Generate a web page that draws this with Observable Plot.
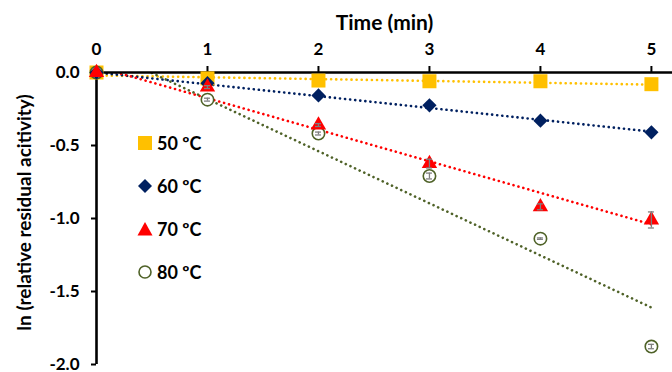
<!DOCTYPE html>
<html>
<head>
<meta charset="utf-8">
<script src="https://cdn.jsdelivr.net/npm/d3@7"></script>
<script src="https://cdn.jsdelivr.net/npm/@observablehq/plot@0.6"></script>
<style>
  html, body { margin: 0; padding: 0; background: #fff; }
  #wrap { position: relative; width: 672px; height: 372px; font-family: Lato, "Open Sans", sans-serif; font-weight: bold; }
  #legend { position: absolute; left: 136px; top: 130px; }
  .row { position: absolute; left: 0; height: 26px; display: flex; align-items: center; white-space: nowrap; font-size: 18px; color: #000; }
  .row svg { width: 18px; height: 18px; margin-right: 3px; }
</style>
</head>
<body>
<div id="wrap"></div>
<script>
// ---- data ----
const times = [0, 1, 2, 3, 4, 5];
const seriesNames = ["50 ºC", "60 ºC", "70 ºC", "80 ºC"];
const v50 = [0, -0.04, -0.055, -0.06, -0.06, -0.08];
const v60 = [0, -0.073, -0.157, -0.225, -0.33, -0.41];
const v70 = [0, -0.10, -0.36, -0.624, -0.92, -1.01];
const v80 = [0, -0.186, -0.418, -0.709, -1.138, -1.877];
const e70 = [0, 0.01, 0.01, 0.03, 0.02, 0.055];
const e80 = [0, 0.01, 0.01, 0.02, 0.005, 0.015];
// linear trendline values at t = 0 and t = 5
const trendT = [0, 5];
const trend50 = [-0.02, -0.083];
const trend60 = [0.0, -0.405];
const trend70 = [0.04, -1.04];
const trend80 = [0.175, -1.61];
const xTicks = [0, 1, 2, 3, 4, 5];
const yTicks = [0, -0.5, -1.0, -1.5, -2.0];
const xTitle = "Time (min)";
const yTitle = "ln (relative residual acitivity)";

const colors = {"50 ºC": "#FFC000", "60 ºC": "#002060", "70 ºC": "#FF0000", "80 ºC": "#4F6228"};
const values = [v50, v60, v70, v80];
const trends = [trend50, trend60, trend70, trend80];

const pts = seriesNames.map((s, i) => times.map((t, j) => ({s, t, v: values[i][j]})));
const trendRows = seriesNames.flatMap((s, i) => trendT.map((t, j) => ({s, t, v: trends[i][j]})));
const errRows = [
  ...times.map((t, j) => ({t, v: v70[j], e: e70[j]})),
  ...times.map((t, j) => ({t, v: v80[j], e: e80[j]}))
].filter(d => d.e > 0);

const fmt = d => d.toFixed(1);

const plot = Plot.plot({
  width: 672,
  height: 372,
  marginLeft: 96,
  marginRight: 0,
  marginTop: 72,
  marginBottom: 8,
  style: {fontFamily: "Lato, 'Open Sans', sans-serif", fontWeight: "bold", fontSize: "17px", color: "#000", background: "#fff"},
  x: {domain: [0, 5.19]},
  y: {domain: [-2, 0]},
  marks: [
    Plot.line(trendRows, {x: "t", y: "v", z: "s", stroke: d => colors[d.s], strokeWidth: 2.6, strokeDasharray: "0.1,5", strokeLinecap: "round", clip: true}),
    Plot.ruleY([0], {stroke: "#000", strokeWidth: 2.6}),
    Plot.ruleX([0], {y1: -2, y2: 0, stroke: "#000", strokeWidth: 2.6}),
    Plot.axisX({anchor: "top", ticks: xTicks, tickSize: 7, tickPadding: 11, tickFormat: d => String(d), strokeWidth: 2, fontSize: 17, label: null}),
    Plot.axisY({anchor: "left", ticks: yTicks, tickSize: 5, tickPadding: 12, tickFormat: fmt, strokeWidth: 2, fontSize: 17, label: null}),
    Plot.dot(pts[0], {x: "t", y: "v", symbol: "square", r: 7.9, fill: colors["50 ºC"], stroke: "none"}),
    Plot.dot(pts[3], {x: "t", y: "v", symbol: "circle", r: 6.2, fill: "#fff", stroke: colors["80 ºC"], strokeWidth: 1.6}),
    Plot.dot(pts[1], {x: "t", y: "v", symbol: "diamond2", r: 6.4, fill: colors["60 ºC"], stroke: "none"}),
    Plot.dot(pts[2], {x: "t", y: "v", symbol: "triangle", r: 5.7, fill: colors["70 ºC"], stroke: "none"}),
    Plot.ruleX(errRows, {x: "t", y1: d => d.v - d.e, y2: d => d.v + d.e, stroke: "#7F7F7F", strokeWidth: 1.3}),
    Plot.ruleY(errRows, {y: d => d.v - d.e, x1: "t", x2: "t", insetLeft: -3, insetRight: -3, stroke: "#7F7F7F", strokeWidth: 1.3}),
    Plot.ruleY(errRows, {y: d => d.v + d.e, x1: "t", x2: "t", insetLeft: -3, insetRight: -3, stroke: "#7F7F7F", strokeWidth: 1.3}),
    Plot.text([xTitle], {frameAnchor: "top", textAnchor: "middle", lineAnchor: "middle", dy: -49, fontSize: 21, fontWeight: "bold", fill: "#000"}),
    Plot.text([yTitle], {frameAnchor: "left", textAnchor: "middle", lineAnchor: "middle", rotate: -90, dx: -72, dy: -6, fontSize: 19, fontWeight: "bold", fill: "#000"})
  ]
});

const wrap = document.getElementById("wrap");
wrap.appendChild(plot);

// legend (inside plot area, as in the reference)
const legend = document.createElement("div");
legend.id = "legend";
const symSvg = {
  "50 ºC": `<rect x="2" y="2" width="14" height="14" fill="${colors["50 ºC"]}"/>`,
  "60 ºC": `<polygon points="9,2 16,9 9,16 2,9" fill="${colors["60 ºC"]}"/>`,
  "70 ºC": `<polygon points="9,2 16.5,15.5 1.5,15.5" fill="${colors["70 ºC"]}"/>`,
  "80 ºC": `<circle cx="9" cy="9" r="6" fill="#fff" stroke="${colors["80 ºC"]}" stroke-width="1.6"/>`
};
const rowTops = [0, 42.5, 85.5, 129];
seriesNames.forEach((s, i) => {
  const row = document.createElement("div");
  row.className = "row";
  row.style.top = rowTops[i] + "px";
  row.innerHTML = `<svg viewBox="0 0 18 18">${symSvg[s]}</svg><span>${s}</span>`;
  legend.appendChild(row);
});
wrap.appendChild(legend);
</script>
</body>
</html>
